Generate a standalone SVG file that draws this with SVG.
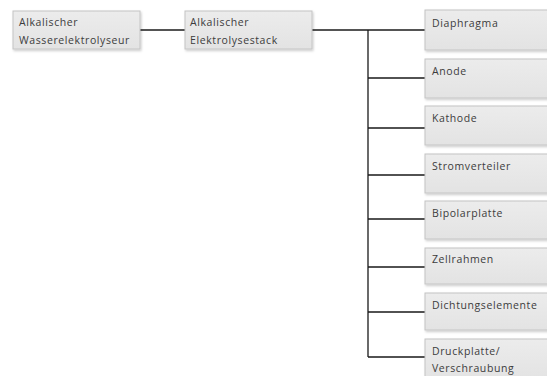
<svg xmlns="http://www.w3.org/2000/svg" width="547" height="376" viewBox="0 0 547 376">
<defs>
<linearGradient id="g" x1="0" y1="0" x2="0" y2="1">
<stop offset="0" stop-color="#ececec"/>
<stop offset="1" stop-color="#e3e3e3"/>
</linearGradient>
<filter id="sh" x="-10%" y="-10%" width="130%" height="140%">
<feDropShadow dx="1" dy="1.5" stdDeviation="1" flood-color="#000" flood-opacity="0.2"/>
</filter>
</defs>
<style>
.box{fill:url(#g);stroke:#c4c4c4;stroke-width:1;filter:url(#sh)}
.t{font-family:"Open Sans","Liberation Sans",sans-serif;font-size:10.5px;letter-spacing:0.6px;fill:#3c3c3c}
.c{stroke:#1a1a1a;stroke-width:1.3;fill:none}
</style>
<rect width="547" height="376" fill="#ffffff"/>
<g id="connectors">
<path class="c" d="M140 30H185"/>
<path class="c" d="M312 30H425"/>
<path class="c" d="M368 30V357"/>
<path class="c" d="M368 78H425M368 128H425M368 175H425M368 219H425M368 267H425M368 312H425M368 357H425"/>
</g>
<g id="n1"><rect class="box" x="13" y="11" width="127" height="38"/><text class="t" x="19" y="26">Alkalischer</text><text class="t" x="19" y="44">Wasserelektrolyseur</text></g>
<g id="n2"><rect class="box" x="185" y="11" width="127" height="38"/><text class="t" x="190" y="26">Alkalischer</text><text class="t" x="190" y="44">Elektrolysestack</text></g>
<g id="n3"><rect class="box" x="425" y="10" width="125" height="40"/><text class="t" x="432" y="27">Diaphragma</text></g>
<g id="n4"><rect class="box" x="425" y="59" width="125" height="39"/><text class="t" x="432" y="75">Anode</text></g>
<g id="n5"><rect class="box" x="425" y="106" width="125" height="39"/><text class="t" x="432" y="122">Kathode</text></g>
<g id="n6"><rect class="box" x="425" y="154" width="125" height="39"/><text class="t" x="432" y="170">Stromverteiler</text></g>
<g id="n7"><rect class="box" x="425" y="201" width="125" height="38"/><text class="t" x="432" y="217">Bipolarplatte</text></g>
<g id="n8"><rect class="box" x="425" y="248" width="125" height="36"/><text class="t" x="432" y="263">Zellrahmen</text></g>
<g id="n9"><rect class="box" x="425" y="293" width="125" height="37"/><text class="t" x="432" y="309">Dichtungselemente</text></g>
<g id="n10"><rect class="box" x="425" y="339" width="125" height="40"/><text class="t" x="432" y="355">Druckplatte/</text><text class="t" x="432" y="372">Verschraubung</text></g>
</svg>
